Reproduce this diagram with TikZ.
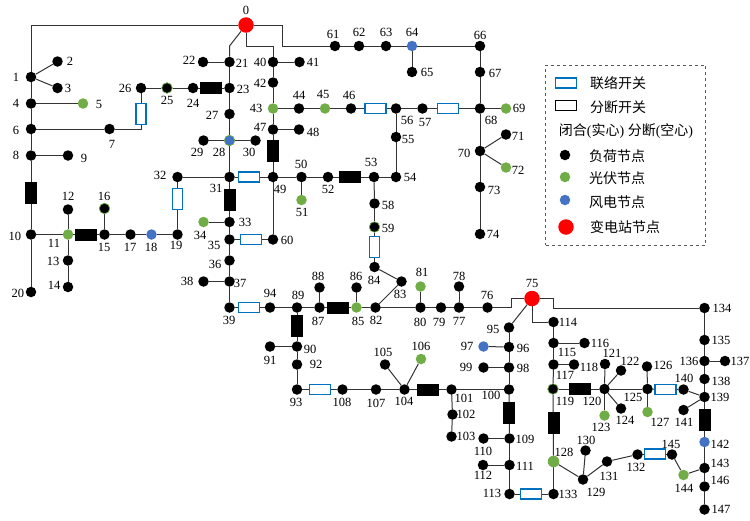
\documentclass[tikz,border=0pt]{standalone}
\usepackage{fontspec}
\setmainfont{Liberation Serif}
\newfontfamily\cjk{Noto Sans CJK SC}
\usetikzlibrary{backgrounds}
\definecolor{pvgreen}{RGB}{112,173,71}
\definecolor{windblue}{RGB}{68,114,196}
\definecolor{tieblue}{RGB}{0,112,192}
\tikzset{
  load/.style={circle,fill=black,inner sep=0pt,minimum size=10.5pt},
  pv/.style={circle,fill=pvgreen,inner sep=0pt,minimum size=10.5pt},
  wind/.style={circle,fill=windblue,inner sep=0pt,minimum size=10.5pt},
  ring/.style={circle,fill=black,draw=pvgreen,line width=0.7pt,inner sep=0pt,minimum size=10.5pt},
  sub/.style={circle,fill=red,inner sep=0pt,minimum size=15.5pt},
  lab/.style={inner sep=0pt,font=\fontsize{12.5}{12.5}\selectfont},
  leg/.style={inner sep=0pt,font=\fontsize{14}{14}\cjk},
  tieh/.style={draw=tieblue,fill=white,line width=1.2pt,inner sep=0pt,minimum width=21pt,minimum height=10pt},
  tiev/.style={draw=tieblue,fill=white,line width=1.2pt,inner sep=0pt,minimum width=10pt,minimum height=21pt},
  secth/.style={fill=black,inner sep=0pt,minimum width=22pt,minimum height=12pt},
  sectv/.style={fill=black,inner sep=0pt,minimum width=12pt,minimum height=22pt},
  wire/.style={draw=black!80,line width=1pt}
}
\begin{document}
\begin{tikzpicture}[x=1pt,y=-1pt]
\useasboundingbox (0,0) rectangle (750,520);
% load nodes
\foreach \n/\x/\y/\lx/\ly in {1/31/77/16/77,2/57.5/61.5/70/61,3/57.5/88/68/88,4/31/103.5/16/103.5,6/31/129/16/130,7/109.5/129/112/144,8/31/155.5/16/155,9/68/155.5/84/158,10/31/234.5/15/236,12/68/209.5/68/196,13/68/260.5/53/261,14/68/287/54/285,15/104.5/234.5/104/247,17/130.5/234.5/130/247,19/177.5/234.5/176/245,20/31/292/18/293,
21/229.5/62/242/63,22/203/62/189/60,23/229.5/88/243/89,24/193/88/193/103,26/141/88/125/88,27/229.5/114/212/115,29/203.5/140.5/197/152,30/255.5/140.5/249/152,31/229.5/177/216/188,32/177.5/177/160/175,33/229.5/222/245/222,35/229.5/239.5/214/245,36/229.5/260.5/215/264,37/229.5/281.5/240/283,38/203.5/281.5/187/281,39/229.5/307.5/229/320,
40/273/62/260/62,41/299.5/62/313/62,42/273/82.5/260/83,44/299/108.5/299/95,46/351/108.5/349/95,47/273/129.5/260/127,48/299/129.5/313/132,49/273/177/280/189,50/301.5/177/301/164,52/328/177/328/189,53/374/177/371/162,54/396/177/410/177,55/396/137/408/139,56/396/108.5/407/120,57/422.5/108.5/425/122,58/374.5/203.5/388/205,60/273/239.5/287/240,
61/335/46/333/34,62/359/46/359/32,63/386/46/386/32,65/412/72/427/72,66/480/46/480/35,67/480/72/495/73,68/480/108.5/491/120,70/480/151/464/153,71/506/134.5/518/136,73/480/187/494/190,74/480/234/493/234,
76/487.5/307.5/487/295,77/459/307.5/459/321,78/459/286.5/459/276,79/441/307.5/439/322,80/420.5/307.5/420/322,82/375.5/307.5/376/320,83/401.5/281.5/400/294,84/374.5/267/374/280,86/356.5/287.5/356/276,87/319.5/307.5/318/321,88/319.5/287.5/318/276,89/297/307.5/298/295,90/297/346.5/310/349,91/270/346.5/270/360,92/297/364.5/316/364,93/297/389.5/296/402,94/270/307.5/270/293,
95/509/327.5/493/329,96/509/347/523/348,98/509/367.5/523/368,99/483.5/367.5/466/367,100/509/389.5/491/395,101/451.5/389.5/464/398,102/452.5/414.5/466/414,103/451.5/436.5/466/436,104/404.5/389.5/404/401,105/385/364.5/383/352,107/376/389.5/376/403,108/342.5/389.5/342/402,109/509.5/438.5/525/439,110/483.5/438.5/483/451,111/509.5/465/525/466,112/483/465/483/475,113/509.5/494/492/493,
114/553.5/322/568/322,115/553.5/343/567/352,116/584.5/343/600/343,117/553.5/364.5/565/375,118/574/364.5/589/367,120/604.5/389/592/401,121/605/364/612/353,122/621/370.5/630/361,124/621/408.5/625/420,125/647.5/389/633/397,126/647/366.5/663/365,129/583/479.5/596/492,130/585.5/450.5/586/440,131/607/461.5/609/476,132/637.5/454.5/636/467,133/553.5/494/568/494,134/704.5/308/722/308,135/704.5/340/721/340,136/704.5/361/689/361,137/725/361/740/361,138/704.5/379/721/381,139/704.5/397/720/397,140/683.5/389.5/684/378,141/683.5/410/684/422,143/704.5/468/720/463,145/672/454.5/671/444,146/704.5/486.5/720/480,147/704.5/509.5/721/509}
  {\node[load] (n\n) at (\x,\y) {}; \node[lab] (t\n) at (\lx,\ly) {\n};}
% pv nodes
\foreach \n/\x/\y/\lx/\ly in {5/83/103.5/99/104,11/68/234.5/54/243,34/203.5/222/200/235,43/273/108.5/256/108,45/325/108.5/323/94,51/301.5/200/302/212,69/506/108.5/519/108.5,72/506/167.5/518/170,81/420.5/286.5/422/272,85/356.5/307.5/358/321,106/421/359/421/346,123/604.5/415.5/601/427,127/647.5/412/660/422,144/683.5/475/684/488}
  {\node[pv] (n\n) at (\x,\y) {}; \node[lab] (t\n) at (\lx,\ly) {\n};}
\node[pv,minimum size=11.5pt] (n128) at (553.5,461.5) {}; \node[lab] (t128) at (564,452) {128};
% wind nodes
\foreach \n/\x/\y/\lx/\ly in {18/151.5/234.5/151/247,64/412/46/412/32,97/483.5/346.5/467/346,142/704.5/442/720/444}
  {\node[wind] (n\n) at (\x,\y) {}; \node[lab] (t\n) at (\lx,\ly) {\n};}
\node[wind,draw=pvgreen,line width=0.7pt] (n28) at (229.5,140.5) {}; \node[lab] (t28) at (219,152) {28};
% ring nodes
\foreach \n/\x/\y/\lx/\ly in {16/104.5/208.5/104/196,25/167/88/167/100,59/374.5/227/388/228,119/553/389/565/401}
  {\node[ring] (n\n) at (\x,\y) {}; \node[lab] (t\n) at (\lx,\ly) {\n};}
% substations
\node[sub] (n0) at (246,25) {}; \node[lab] (t0) at (246,10) {0};
\node[sub] (n75) at (532,298.5) {}; \node[lab] (t75) at (532,283) {75};
% sectional switches
\foreach \s/\x/\y in {a/210.5/88,b/85.5/234.5,c/350/177,d/338/307.5,e/428/389.5,f/580/389}
  \node[secth] (sw\s) at (\x,\y) {};
\foreach \s/\x/\y in {g/31/193,h/273/150.5,i/229.5/199.5,j/297/326,k/509/412.5,l/553.5/423,m/704.5/420}
  \node[sectv] (sw\s) at (\x,\y) {};
% tie switches
\foreach \s/\x/\y in {p/249/177,q/251/239.5,r/249/307.5,s/375.5/108.5,t/448/108.5,u/320/389.5,v/531/494,w/665.5/389.5,x/655/454}
  \node[tieh] (sw\s) at (\x,\y) {};
\foreach \s/\x/\y in {y/141/114,z/177.5/199,o/374.5/247}
  \node[tiev] (sw\s) at (\x,\y) {};
% bend points
\coordinate (c21) at (229.5,46);
\coordinate (c40a) at (246,46);
\coordinate (c40b) at (273,46);
\coordinate (c61a) at (282,25);
\coordinate (c61b) at (282,46);
\coordinate (c76a) at (511,298.5);
\coordinate (c76b) at (511,307.5);
\coordinate (c134a) at (553,298.5);
\coordinate (c134b) at (553,308);
% wires
\begin{pgfonlayer}{background}
\foreach \a/\b in {1/2,1/3,1/4,4/5,4/6,6/7,6/8,8/9,8/10,10/11,10/20,11/12,11/13,13/14,11/15,15/16,15/17,17/18,18/19,19/32,32/31,21/22,21/23,23/24,24/25,25/26,23/27,27/28,28/29,28/30,28/31,31/49,31/33,33/34,33/35,35/36,36/37,37/38,37/39,39/94,94/89,35/60,60/49,40/41,40/42,42/43,43/44,44/45,45/46,46/56,56/57,57/68,43/47,47/48,47/49,49/50,50/51,50/52,52/53,53/54,54/55,55/56,53/58,58/59,59/84,84/83,83/82,82/80,80/81,80/79,79/77,77/78,77/76,85/82,85/86,85/87,87/88,87/89,89/90,90/91,90/92,92/93,93/108,108/107,107/104,104/105,104/106,104/101,101/100,101/102,102/103,61/62,62/63,63/64,64/65,64/66,66/67,67/68,68/69,68/70,70/71,70/72,70/73,73/74,75/95,95/96,96/97,96/98,98/99,98/100,100/109,109/110,109/111,111/112,111/113,113/133,133/128,128/129,129/130,129/131,131/132,132/145,145/144,144/143,143/142,142/139,139/138,138/136,136/137,136/135,135/134,143/146,146/147,139/140,139/141,140/125,125/126,125/127,125/120,120/121,120/122,120/123,120/124,120/119,119/128,119/117,117/118,117/115,115/116,115/114}
  \draw[wire] (n\a) -- (n\b);
\draw[wire] (n0) -| (n1);
\draw[wire] (n7) -| (n26);
\draw[wire] (n0) -- (c21) -- (n21);
\draw[wire] (n0) -- (c40a) -- (c40b) -- (n40);
\draw[wire] (n0) -- (c61a) -- (c61b) -- (n61);
\draw[wire] (n75) -- (c76a) -- (c76b) -- (n76);
\draw[wire] (n75) -- (c134a) -- (c134b) -- (n134);
\draw[wire] (n75) |- (n114);
\end{pgfonlayer}
% legend
\node[draw=black!65,dashed,line width=0.8pt,inner sep=0pt,minimum width=160pt,minimum height=180pt] (legbox) at (625.7,155) {};
\node[tieh] (legtie) at (566,83) {};
\node[draw=black,fill=white,line width=1.2pt,inner sep=0pt,minimum width=21pt,minimum height=10pt] (legsect) at (566,105.5) {};
\node[leg] (tlegtie) at (618,83) {联络开关};
\node[leg] (tlegsect) at (618,107) {分断开关};
\node[inner sep=0pt,font=\fontsize{14}{14}\selectfont] (tlegstate) at (626,131) {{\cjk 闭合}({\cjk 实心}) {\cjk 分断}({\cjk 空心})};
\node[load] (legload) at (565,155) {};
\node[pv] (legpv) at (565,177) {};
\node[wind] (legwind) at (565,200) {};
\node[sub] (legsub) at (566,227) {};
\node[leg] (tlegload) at (617,156) {负荷节点};
\node[leg] (tlegpv) at (617,178) {光伏节点};
\node[leg] (tlegwind) at (617,202) {风电节点};
\node[leg] (tlegsub) at (625,227) {变电站节点};
\end{tikzpicture}
\end{document}
